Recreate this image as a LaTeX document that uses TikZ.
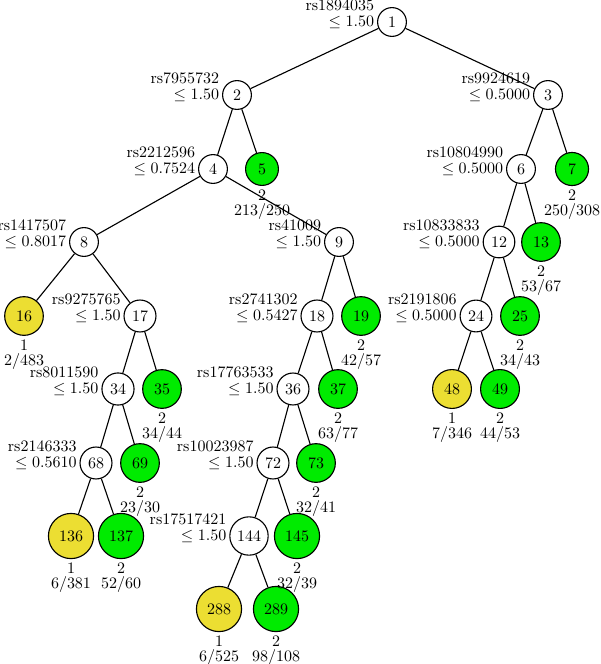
\documentclass[tikz,border=0pt]{standalone}
\usepackage{amsmath,amssymb}
\usepackage{xcolor}
\usetikzlibrary{calc}
\definecolor{leafgreen}{RGB}{0,235,0}
\definecolor{leafyellow}{RGB}{236,222,50}

\begin{document}
\begin{tikzpicture}[x=0.625pt, y=-0.625pt, line width=0.7pt]
  \tikzset{
      split/.style={circle, draw, fill=white, inner sep=2.8pt, minimum size=18pt},
      leaf/.style={circle, draw, inner sep=4.3pt, minimum size=19.5pt},
      rule/.style={anchor=south east, align=right, inner sep=0pt, font=\fontsize{10}{10}\selectfont},
      count/.style={anchor=north, align=center, inner sep=2pt, font=\fontsize{10}{9.6}\selectfont}
  }
  \useasboundingbox (0,0) rectangle (600,664);

  % split nodes
  \node[split] (n1)   at (392, 22)  {1};
  \node[split] (n2)   at (237, 95)  {2};
  \node[split] (n3)   at (548, 95)  {3};
  \node[split] (n4)   at (213, 169) {4};
  \node[split] (n6)   at (521, 169) {6};
  \node[split] (n8)   at (84, 242)  {8};
  \node[split] (n9)   at (339, 242) {9};
  \node[split] (n12)  at (499, 242) {12};
  \node[split] (n17)  at (140, 316) {17};
  \node[split] (n18)  at (317, 316) {18};
  \node[split] (n24)  at (476, 316) {24};
  \node[split] (n34)  at (118, 389) {34};
  \node[split] (n36)  at (293, 389) {36};
  \node[split] (n68)  at (96, 463)  {68};
  \node[split] (n72)  at (273, 463) {72};
  \node[split] (n144) at (249, 536) {144};

  \node[rule] (t1)   at ([xshift=-1.5pt, yshift=-4.6pt]n1.west)   {rs1894035\\$\leq 1.50$};
  \node[rule] (t2)   at ([xshift=-1.5pt, yshift=-4.6pt]n2.west)   {rs7955732\\$\leq 1.50$};
  \node[rule] (t3)   at ([xshift=-1.5pt, yshift=-4.6pt]n3.west)   {rs9924619\\$\leq 0.5000$};
  \node[rule] (t4)   at ([xshift=-1.5pt, yshift=-4.6pt]n4.west)   {rs2212596\\$\leq 0.7524$};
  \node[rule] (t6)   at ([xshift=-1.5pt, yshift=-4.6pt]n6.west)   {rs10804990\\$\leq 0.5000$};
  \node[rule] (t8)   at ([xshift=-1.5pt, yshift=-4.6pt]n8.west)   {rs1417507\\$\leq 0.8017$};
  \node[rule] (t9)   at ([xshift=-1.5pt, yshift=-4.6pt]n9.west)   {rs41009\\$\leq 1.50$};
  \node[rule] (t12)  at ([xshift=-1.5pt, yshift=-4.6pt]n12.west)  {rs10833833\\$\leq 0.5000$};
  \node[rule] (t17)  at ([xshift=-1.5pt, yshift=-4.6pt]n17.west)  {rs9275765\\$\leq 1.50$};
  \node[rule] (t18)  at ([xshift=-1.5pt, yshift=-4.6pt]n18.west)  {rs2741302\\$\leq 0.5427$};
  \node[rule] (t24)  at ([xshift=-1.5pt, yshift=-4.6pt]n24.west)  {rs2191806\\$\leq 0.5000$};
  \node[rule] (t34)  at ([xshift=-1.5pt, yshift=-4.6pt]n34.west)  {rs8011590\\$\leq 1.50$};
  \node[rule] (t36)  at ([xshift=-1.5pt, yshift=-4.6pt]n36.west)  {rs17763533\\$\leq 1.50$};
  \node[rule] (t68)  at ([xshift=-1.5pt, yshift=-4.6pt]n68.west)  {rs2146333\\$\leq 0.5610$};
  \node[rule] (t72)  at ([xshift=-1.5pt, yshift=-4.6pt]n72.west)  {rs10023987\\$\leq 1.50$};
  \node[rule] (t144) at ([xshift=-1.5pt, yshift=-4.6pt]n144.west) {rs17517421\\$\leq 1.50$};

  % leaves
  \node[leaf, fill=leafgreen]  (n5)   at (262, 169) {5};
  \node[leaf, fill=leafgreen]  (n7)   at (572, 169) {7};
  \node[leaf, fill=leafgreen]  (n13)  at (541, 242) {13};
  \node[leaf, fill=leafyellow] (n16)  at (24, 316)  {16};
  \node[leaf, fill=leafgreen]  (n19)  at (361, 316) {19};
  \node[leaf, fill=leafgreen]  (n25)  at (520, 316) {25};
  \node[leaf, fill=leafgreen]  (n35)  at (162, 389) {35};
  \node[leaf, fill=leafgreen]  (n37)  at (338, 389) {37};
  \node[leaf, fill=leafyellow] (n48)  at (452, 389) {48};
  \node[leaf, fill=leafgreen]  (n49)  at (500, 389) {49};
  \node[leaf, fill=leafgreen]  (n69)  at (140, 463) {69};
  \node[leaf, fill=leafgreen]  (n73)  at (316, 463) {73};
  \node[leaf, fill=leafyellow] (n136) at (71, 536)  {136};
  \node[leaf, fill=leafgreen]  (n137) at (121, 536) {137};
  \node[leaf, fill=leafgreen]  (n145) at (297, 536) {145};
  \node[leaf, fill=leafyellow] (n288) at (219, 609) {288};
  \node[leaf, fill=leafgreen]  (n289) at (276, 609) {289};

  \node[count] (c5)   at (n5.south)   {2\\213/250};
  \node[count] (c7)   at (n7.south)   {2\\250/308};
  \node[count] (c13)  at (n13.south)  {2\\53/67};
  \node[count] (c16)  at (n16.south)  {1\\2/483};
  \node[count] (c19)  at (n19.south)  {2\\42/57};
  \node[count] (c25)  at (n25.south)  {2\\34/43};
  \node[count] (c35)  at (n35.south)  {2\\34/44};
  \node[count] (c37)  at (n37.south)  {2\\63/77};
  \node[count] (c48)  at (n48.south)  {1\\7/346};
  \node[count] (c49)  at (n49.south)  {2\\44/53};
  \node[count] (c69)  at (n69.south)  {2\\23/30};
  \node[count] (c73)  at (n73.south)  {2\\32/41};
  \node[count] (c136) at (n136.south) {1\\6/381};
  \node[count] (c137) at (n137.south) {2\\52/60};
  \node[count] (c145) at (n145.south) {2\\32/39};
  \node[count] (c288) at (n288.south) {1\\6/525};
  \node[count] (c289) at (n289.south) {2\\98/108};

  % branches
  \draw (n1) -- (n2);     \draw (n1) -- (n3);
  \draw (n2) -- (n4);     \draw (n2) -- (n5);
  \draw (n3) -- (n6);     \draw (n3) -- (n7);
  \draw (n4) -- (n8);     \draw (n4) -- (n9);
  \draw (n6) -- (n12);    \draw (n6) -- (n13);
  \draw (n8) -- (n16);    \draw (n8) -- (n17);
  \draw (n9) -- (n18);    \draw (n9) -- (n19);
  \draw (n12) -- (n24);   \draw (n12) -- (n25);
  \draw (n17) -- (n34);   \draw (n17) -- (n35);
  \draw (n18) -- (n36);   \draw (n18) -- (n37);
  \draw (n24) -- (n48);   \draw (n24) -- (n49);
  \draw (n34) -- (n68);   \draw (n34) -- (n69);
  \draw (n36) -- (n72);   \draw (n36) -- (n73);
  \draw (n68) -- (n136);  \draw (n68) -- (n137);
  \draw (n72) -- (n144);  \draw (n72) -- (n145);
  \draw (n144) -- (n288); \draw (n144) -- (n289);
\end{tikzpicture}
\end{document}
